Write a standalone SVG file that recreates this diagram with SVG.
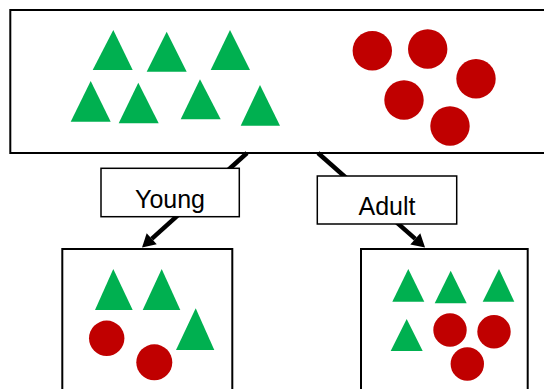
<svg xmlns="http://www.w3.org/2000/svg" width="544" height="389" viewBox="0 0 544 389">
<style>
.box{fill:#fff;stroke:#000;stroke-width:2}
.lbl{fill:#fff;stroke:#000;stroke-width:1.5}
.tri{fill:#00B050}
.dot{fill:#C00000}
.conn{stroke:#000;stroke-width:4.5;fill:none;marker-end:url(#ah)}
text{font-family:"Liberation Sans",Arial,sans-serif;font-size:25px;fill:#000;text-anchor:middle}
</style>
<defs>
<marker id="ah" markerUnits="userSpaceOnUse" markerWidth="14" markerHeight="15" refX="0" refY="7.5" orient="auto" overflow="visible">
<path d="M0,0 L13,7.5 L0,15 Z" fill="#000"/>
</marker>
</defs>
<g id="top">
<rect class="box" x="10.3" y="10" width="540" height="143"/>
<polygon class="tri" points="113.3,30 92.7,70 132.7,70"/>
<polygon class="tri" points="166.7,31.7 146.7,71.7 186.7,71.7"/>
<polygon class="tri" points="230,30 210.7,70 250,70"/>
<polygon class="tri" points="90.7,81 70.7,121.7 110.7,121.7"/>
<polygon class="tri" points="138.3,82.7 118.7,123.3 158.7,123.3"/>
<polygon class="tri" points="200,79.3 180.7,119.3 220.7,119.3"/>
<polygon class="tri" points="260,85 240.7,125.7 280,125.7"/>
<circle class="dot" cx="372.3" cy="50.7" r="19.7"/>
<circle class="dot" cx="427.7" cy="49" r="19.7"/>
<circle class="dot" cx="476" cy="78.7" r="19.7"/>
<circle class="dot" cx="404" cy="100" r="19.7"/>
<circle class="dot" cx="450" cy="126" r="19.7"/>
</g>
<g id="connectors">
<path class="conn" d="M247,153 L151.7,238.8"/>
<path class="conn" d="M318,153 L415.3,238.9"/>
</g>
<g id="young-label">
<rect class="lbl" x="101" y="168.3" width="138.3" height="48.4"/>
<text x="170" y="207.5">Young</text>
</g>
<g id="adult-label">
<rect class="lbl" x="317.3" y="176" width="139.4" height="48"/>
<text x="387" y="215">Adult</text>
</g>
<g id="young">
<rect class="box" x="62.3" y="249" width="170" height="150"/>
<polygon class="tri" points="113.3,269 95,310 132.7,310"/>
<polygon class="tri" points="161.7,269 142.7,310 180.3,310"/>
<polygon class="tri" points="195.7,308.3 176,350 214.3,350"/>
<circle class="dot" cx="106.7" cy="338.3" r="17.7"/>
<circle class="dot" cx="154.3" cy="362.3" r="18"/>
</g>
<g id="adult">
<rect class="box" x="361" y="249" width="166.7" height="150"/>
<polygon class="tri" points="408.3,269 392.3,301.7 424.3,301.7"/>
<polygon class="tri" points="450.7,270.7 434.7,303.3 466.7,303.3"/>
<polygon class="tri" points="499,269 482.7,301.7 514.3,301.7"/>
<polygon class="tri" points="406.7,319 390.7,351 422.7,351"/>
<circle class="dot" cx="450" cy="330" r="16.7"/>
<circle class="dot" cx="494" cy="331.7" r="16.7"/>
<circle class="dot" cx="467.3" cy="364" r="16.7"/>
</g>
</svg>
